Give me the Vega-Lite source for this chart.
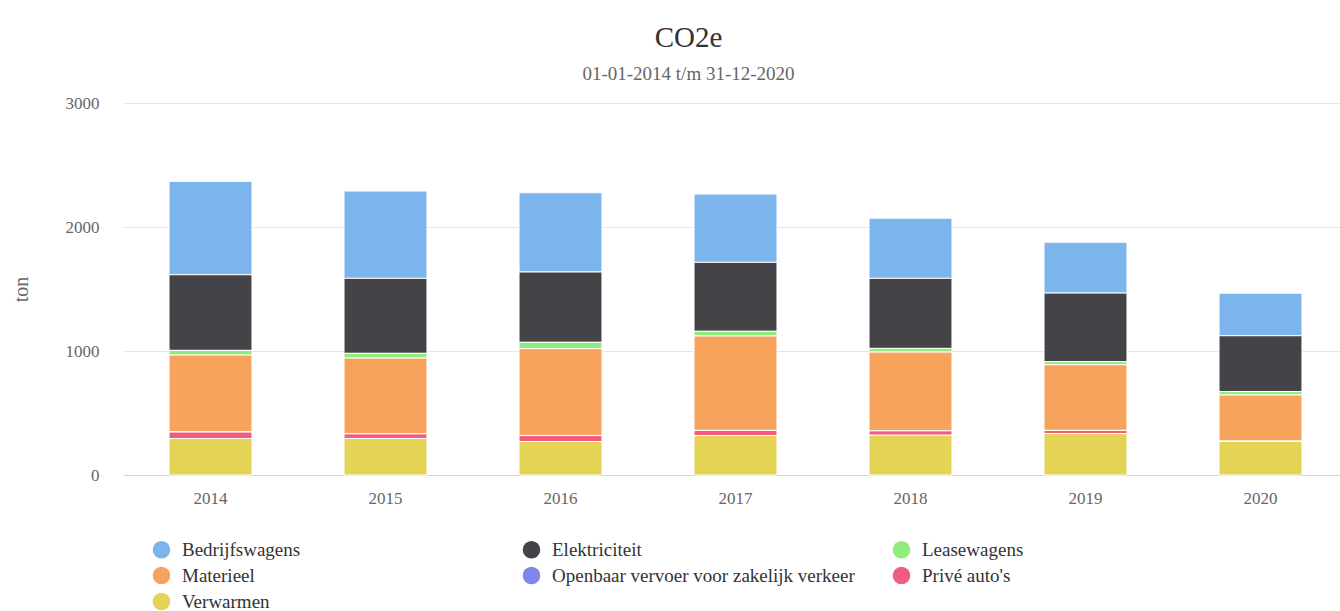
{
  "$schema": "https://vega.github.io/schema/vega-lite/v6.json",
  "autosize": {"type": "none"},
  "padding": {"left": 123, "top": 103, "right": 0, "bottom": 136},
  "width": 1217,
  "height": 372,
  "background": "#ffffff",
  "title": {
    "text": "CO2e",
    "subtitle": "01-01-2014 t/m 31-12-2020",
    "anchor": "middle",
    "frame": "group",
    "dx": -43,
    "offset": 10,
    "font": "Liberation Serif",
    "fontSize": 29,
    "fontWeight": "normal",
    "color": "#333333",
    "subtitleFont": "Liberation Serif",
    "subtitleFontSize": 19,
    "subtitleColor": "#666666",
    "subtitlePadding": 12
  },
  "data": {
    "values": [
      {"year": "2014", "source": "Bedrijfswagens", "value": 753},
      {"year": "2014", "source": "Elektriciteit", "value": 610},
      {"year": "2014", "source": "Leasewagens", "value": 38},
      {"year": "2014", "source": "Materieel", "value": 620},
      {"year": "2014", "source": "Openbaar vervoer voor zakelijk verkeer", "value": 1},
      {"year": "2014", "source": "Privé auto's", "value": 52},
      {"year": "2014", "source": "Verwarmen", "value": 294},
      {"year": "2015", "source": "Bedrijfswagens", "value": 704},
      {"year": "2015", "source": "Elektriciteit", "value": 605},
      {"year": "2015", "source": "Leasewagens", "value": 38},
      {"year": "2015", "source": "Materieel", "value": 610},
      {"year": "2015", "source": "Openbaar vervoer voor zakelijk verkeer", "value": 1},
      {"year": "2015", "source": "Privé auto's", "value": 38},
      {"year": "2015", "source": "Verwarmen", "value": 294},
      {"year": "2016", "source": "Bedrijfswagens", "value": 639},
      {"year": "2016", "source": "Elektriciteit", "value": 567},
      {"year": "2016", "source": "Leasewagens", "value": 51},
      {"year": "2016", "source": "Materieel", "value": 700},
      {"year": "2016", "source": "Openbaar vervoer voor zakelijk verkeer", "value": 1},
      {"year": "2016", "source": "Privé auto's", "value": 48},
      {"year": "2016", "source": "Verwarmen", "value": 270},
      {"year": "2017", "source": "Bedrijfswagens", "value": 551},
      {"year": "2017", "source": "Elektriciteit", "value": 556},
      {"year": "2017", "source": "Leasewagens", "value": 38},
      {"year": "2017", "source": "Materieel", "value": 761},
      {"year": "2017", "source": "Openbaar vervoer voor zakelijk verkeer", "value": 1},
      {"year": "2017", "source": "Privé auto's", "value": 41},
      {"year": "2017", "source": "Verwarmen", "value": 318},
      {"year": "2018", "source": "Bedrijfswagens", "value": 485},
      {"year": "2018", "source": "Elektriciteit", "value": 565},
      {"year": "2018", "source": "Leasewagens", "value": 30},
      {"year": "2018", "source": "Materieel", "value": 634},
      {"year": "2018", "source": "Openbaar vervoer voor zakelijk verkeer", "value": 1},
      {"year": "2018", "source": "Privé auto's", "value": 35},
      {"year": "2018", "source": "Verwarmen", "value": 321},
      {"year": "2019", "source": "Bedrijfswagens", "value": 410},
      {"year": "2019", "source": "Elektriciteit", "value": 553},
      {"year": "2019", "source": "Leasewagens", "value": 25},
      {"year": "2019", "source": "Materieel", "value": 529},
      {"year": "2019", "source": "Openbaar vervoer voor zakelijk verkeer", "value": 1},
      {"year": "2019", "source": "Privé auto's", "value": 25},
      {"year": "2019", "source": "Verwarmen", "value": 334},
      {"year": "2020", "source": "Bedrijfswagens", "value": 343},
      {"year": "2020", "source": "Elektriciteit", "value": 450},
      {"year": "2020", "source": "Leasewagens", "value": 28},
      {"year": "2020", "source": "Materieel", "value": 372},
      {"year": "2020", "source": "Openbaar vervoer voor zakelijk verkeer", "value": 1},
      {"year": "2020", "source": "Privé auto's", "value": 2},
      {"year": "2020", "source": "Verwarmen", "value": 270}
    ]
  },
  "mark": {"type": "bar", "stroke": "#ffffff", "strokeWidth": 1},
  "encoding": {
    "x": {
      "field": "year",
      "type": "ordinal",
      "scale": {"range": [0, 1225], "paddingInner": 0.526, "paddingOuter": 0.263},
      "axis": {
        "title": null,
        "labelAngle": 0,
        "labelFont": "Liberation Serif",
        "labelFontSize": 17,
        "labelColor": "#666666",
        "labelPadding": 15,
        "ticks": false,
        "domainColor": "#ccd6eb",
        "domainWidth": 1
      }
    },
    "y": {
      "field": "value",
      "type": "quantitative",
      "aggregate": "sum",
      "stack": "zero",
      "scale": {"domain": [0, 3000], "nice": false},
      "axis": {
        "title": "ton",
        "titleFont": "Liberation Serif",
        "titleFontSize": 20,
        "titleFontWeight": "normal",
        "titleColor": "#666666",
        "titlePadding": 34,
        "values": [0, 1000, 2000, 3000],
        "format": "d",
        "labelFont": "Liberation Serif",
        "labelFontSize": 17,
        "labelColor": "#666666",
        "labelPadding": 24,
        "ticks": false,
        "domain": false,
        "gridColor": "#e6e6e6",
        "gridWidth": 1
      }
    },
    "color": {
      "field": "source",
      "type": "nominal",
      "scale": {
        "domain": ["Bedrijfswagens", "Elektriciteit", "Leasewagens", "Materieel", "Openbaar vervoer voor zakelijk verkeer", "Privé auto's", "Verwarmen"],
        "range": ["#7cb5ec", "#434348", "#90ed7d", "#f7a35c", "#8085e9", "#f15c80", "#e4d354"]
      },
      "legend": {
        "title": null,
        "orient": "none",
        "legendX": 29,
        "legendY": 437,
        "direction": "horizontal",
        "columns": 3,
        "gridAlign": "all",
        "columnPadding": 37,
        "rowPadding": 6,
        "symbolType": "circle",
        "symbolSize": 310,
        "symbolStrokeWidth": 0,
        "labelOffset": 11,
        "labelFont": "Liberation Serif",
        "labelFontSize": 19,
        "labelColor": "#333333",
        "labelLimit": 450,
        "padding": 0
      }
    },
    "order": {"field": "source", "sort": "descending"}
  },
  "config": {
    "font": "Liberation Serif",
    "title": {"font": "Liberation Serif"},
    "view": {"stroke": null}
  }
}
